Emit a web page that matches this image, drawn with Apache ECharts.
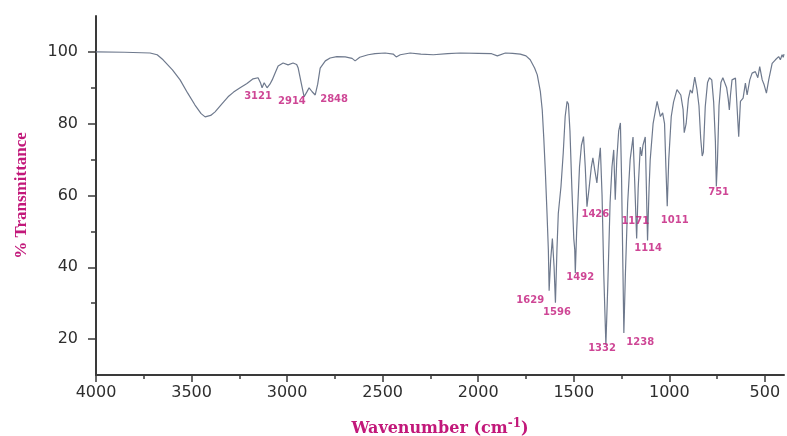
<!DOCTYPE html>
<html>
<head>
<meta charset="utf-8">
<script src="https://cdn.jsdelivr.net/npm/echarts@6/dist/echarts.min.js"></script>
<style>html,body{margin:0;padding:0;background:#fff;}#c{width:787px;height:436px;}</style>
</head>
<body>
<div id="c"></div>
<script>
// Wavenumber (cm-1) and % transmittance
const wavenumbers = [4000,3850,3717,3680,3649,3600,3560,3520,3482,3450,3429,3400,3377,3340,3309,3280,3246,3210,3178,3152,3140,3131,3120,3105,3090,3078,3060,3047,3021,2995,2969,2950,2942,2925,2911,2895,2885,2869,2853,2840,2827,2800,2775,2740,2696,2660,2644,2620,2576,2540,2487,2445,2429,2408,2356,2300,2235,2160,2094,2000,1930,1900,1858,1820,1780,1750,1728,1705,1691,1675,1665,1657,1649,1640,1633,1629,1621,1612,1603,1596,1588,1581,1567,1555,1545,1535,1528,1520,1510,1500,1495,1492,1485,1470,1460,1449,1440,1431,1420,1408,1400,1390,1379,1370,1361,1352,1343,1332,1322,1310,1300,1291,1283,1275,1265,1256,1250,1243,1238,1230,1218,1205,1190,1182,1171,1163,1152,1145,1138,1126,1120,1114,1106,1100,1085,1064,1055,1047,1035,1025,1018,1011,1003,990,978,960,950,940,928,922,912,900,890,880,867,855,845,836,828,822,812,800,790,778,768,759,754,748,740,730,720,710,700,692,686,680,672,654,646,637,628,614,602,593,579,567,550,537,527,514,505,492,480,462,445,428,419,410,404,400];
const transmittance = [100,99.9,99.7,99.2,97.8,95,92.2,88.5,85.2,82.8,81.9,82.3,83.3,85.6,87.5,88.8,90,91.2,92.5,92.8,91.5,90,91.4,90,91,92.2,94.5,96.1,96.9,96.4,96.9,96.5,95.5,91,87.5,89,90,88.9,88,91,95.5,97.5,98.3,98.7,98.6,98.2,97.5,98.5,99.2,99.5,99.7,99.4,98.6,99.2,99.7,99.4,99.2,99.5,99.7,99.6,99.5,98.9,99.7,99.6,99.4,98.9,97.8,95.5,93.6,89,83.8,76,67,55,44.8,33.5,42,48,40,30.1,45,55,62.5,72,82,86.2,85.5,78,62,48,45,38.4,50,68,74,76.4,68,56.9,62,68,70.5,67,63.5,69,73.3,60,38,18.4,35,58,68,72.7,58.8,70,78,80.2,65,40,21.7,38,58,70,76.3,65,48,62,73.5,71,74,76.3,62,47.5,62,70,80,86.2,84,82,83,80,68,57,70,82,86,89.5,90,88,84,77.5,80,87,89.4,88.5,93,89.4,85,76,71,72,84.8,91.5,92.8,92.2,86,75,62.5,70,85,91.5,92.8,92.5,90,87,83.8,88,92.2,92.7,85,76.4,86.2,87.1,91.3,88,92.2,94.1,94.5,92.8,95.9,92.2,91,88.5,92.2,96.8,97.8,98.7,97.8,99.2,98.5,99.4];

// Peak annotations: text and anchor (data units)
const peakLabels = ['3121','2914','2848','1629','1596','1492','1426','1332','1238','1171','1011','1114','751'];
const peakLabelWn = [3152,2975,2754,1728,1588,1466,1387,1352,1152,1178,972,1111,742];
const peakLabelT = [87.5,86.2,86.8,30.7,27.3,37.1,54.6,17.5,19.0,52.7,53.2,45.3,60.8];

// Axis ticks
const xMajorTicks = [4000,3500,3000,2500,2000,1500,1000,500];
const xMinorTicks = [3750,3250,2750,2250,1750,1250,750];
const yMajorTicks = [20,40,60,80,100];
const yMinorTicks = [30,50,70,90];

const spectrum = wavenumbers.map((w, i) => [w, transmittance[i]]);
const annotations = peakLabels.map((t, i) => ({ value: [peakLabelWn[i], peakLabelT[i]], name: t }));

const axisColor = '#3a3a3a';
const pink = '#c2187a';
const chart = echarts.init(document.getElementById('c'));
const xBase = { type: 'value', min: 400, max: 4000, inverse: true, splitLine: { show: false } };
const yBase = { type: 'value', min: 10, max: 110, splitLine: { show: false } };

chart.setOption({
  animation: false,
  backgroundColor: '#ffffff',
  grid: { left: 96, right: 3, top: 16, bottom: 61, containLabel: false, outerBoundsMode: 'none' },
  xAxis: [
    Object.assign({}, xBase, {
      position: 'bottom',
      axisLine: { show: true, lineStyle: { color: axisColor, width: 2 } },
      axisTick: { show: true, inside: false, length: 7, lineStyle: { color: axisColor, width: 1.5 }, customValues: xMajorTicks },
      axisLabel: { show: true, margin: 10, color: '#2e2e2e', fontSize: 16, fontFamily: 'DejaVu Sans', customValues: xMajorTicks, formatter: v => String(v) },
      name: '{a|Wavenumber (cm}{b|-1}{a|)}',
      nameLocation: 'middle',
      nameGap: 43,
      nameTextStyle: {
        rich: {
          a: { fontFamily: 'DejaVu Serif', fontWeight: 'bold', fontSize: 16, color: pink },
          b: { fontFamily: 'DejaVu Serif', fontWeight: 'bold', fontSize: 12, color: pink, padding: [0, 0, 10, 0] }
        }
      }
    }),
    Object.assign({}, xBase, {
      position: 'bottom',
      axisLine: { show: false },
      axisTick: { show: true, inside: false, length: 4, lineStyle: { color: axisColor, width: 1.5 }, customValues: xMinorTicks },
      axisLabel: { show: false }
    })
  ],
  yAxis: [
    Object.assign({}, yBase, {
      position: 'left',
      axisLine: { show: true, lineStyle: { color: axisColor, width: 2 } },
      axisTick: { show: true, inside: false, length: 8, lineStyle: { color: axisColor, width: 1.5 }, customValues: yMajorTicks },
      axisLabel: { show: true, margin: 18, color: '#2e2e2e', fontSize: 16, fontFamily: 'DejaVu Sans', customValues: yMajorTicks, formatter: v => String(v) },
      name: '% Transmittance',
      nameLocation: 'middle',
      nameGap: 66,
      nameTextStyle: { fontFamily: 'Liberation Serif', fontWeight: 'bold', fontSize: 17, color: pink }
    }),
    Object.assign({}, yBase, {
      position: 'left',
      axisLine: { show: false },
      axisTick: { show: true, inside: false, length: 5, lineStyle: { color: axisColor, width: 1.5 }, customValues: yMinorTicks },
      axisLabel: { show: false }
    })
  ],
  series: [
    {
      type: 'line',
      data: spectrum,
      xAxisIndex: 0, yAxisIndex: 0,
      showSymbol: false,
      symbol: 'none',
      lineStyle: { color: '#6e798d', width: 1.2 },
      z: 2
    },
    {
      type: 'scatter',
      data: annotations,
      xAxisIndex: 0, yAxisIndex: 0,
      symbol: 'circle',
      symbolSize: 1,
      itemStyle: { color: 'rgba(0,0,0,0)' },
      label: {
        show: true,
        position: 'inside',
        formatter: p => p.name,
        color: pink,
        fontFamily: 'DejaVu Sans',
        fontWeight: 'bold',
        fontSize: 10
      },
      labelLayout: { hideOverlap: false },
      z: 3
    }
  ]
});
</script>
</body>
</html>
